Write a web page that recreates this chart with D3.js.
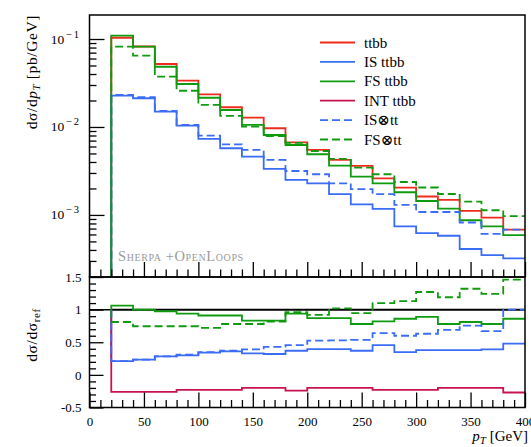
<!DOCTYPE html>
<html>
<head>
<meta charset="utf-8">
<script src="https://cdn.jsdelivr.net/npm/d3@7"></script>
<style>
  body { margin: 0; background: #fff; }
  text { font-family: "Liberation Serif", "DejaVu Serif", serif; }
</style>
</head>
<body>
<div id="chart"></div>
<script>
// bin edges in pT [GeV]
const binEdges = [20, 40, 60, 80, 100, 120, 140, 160, 180, 200, 220, 240, 260, 280, 300, 320, 340, 360, 380, 400];

// dsigma/dpT [pb/GeV], one value per bin
const ttbb    = [0.1034, 0.0822, 0.0520, 0.0336, 0.0235, 0.01675, 0.01276, 0.00967, 0.00667, 0.00548, 0.00422, 0.00361, 0.00261, 0.00204, 0.00162, 0.00148, 0.00111, 0.00093, 0.00068];
const isTtbb  = [0.0227, 0.0212, 0.01493, 0.01035, 0.00731, 0.00573, 0.00460, 0.00334, 0.00250, 0.00229, 0.00172, 0.00132, 0.00117, 0.00074, 0.00062, 0.00058, 0.00041, 0.00035, 0.00032];
const fsTtbb  = [0.109, 0.0818, 0.0484, 0.0308, 0.0215, 0.0156, 0.01054, 0.00811, 0.00624, 0.00490, 0.00363, 0.00272, 0.00229, 0.00181, 0.00144, 0.00118, 0.00087, 0.00074, 0.00059];
const isTt    = [0.0231, 0.0219, 0.0152, 0.01054, 0.00796, 0.00635, 0.00548, 0.00422, 0.00316, 0.00290, 0.00229, 0.00197, 0.00172, 0.00130, 0.00108, 0.00108, 0.00082, 0.00061, 0.00068];
const fsTt    = [0.0818, 0.0649, 0.0373, 0.0258, 0.0178, 0.01334, 0.01007, 0.0079, 0.00658, 0.00533, 0.00433, 0.00345, 0.00290, 0.00237, 0.00205, 0.00173, 0.00142, 0.00113, 0.00097];

// ratios to ttbb
const ratioTtbb  = [1, 1, 1, 1, 1, 1, 1, 1, 1, 1, 1, 1, 1, 1, 1, 1, 1, 1, 1];
const ratioIS    = [0.21, 0.235, 0.285, 0.30, 0.34, 0.36, 0.33, 0.32, 0.37, 0.395, 0.395, 0.37, 0.455, 0.35, 0.38, 0.38, 0.38, 0.39, 0.48];
const ratioFS    = [1.06, 1.00, 0.975, 0.94, 0.91, 0.91, 0.83, 0.83, 0.94, 0.87, 0.87, 0.78, 0.82, 0.86, 0.89, 0.78, 0.81, 0.78, 0.86];
const ratioINT   = [-0.26, -0.26, -0.26, -0.23, -0.23, -0.23, -0.20, -0.20, -0.24, -0.20, -0.20, -0.20, -0.23, -0.23, -0.23, -0.20, -0.20, -0.20, -0.27];
const ratioISxtt = [0.21, 0.235, 0.285, 0.31, 0.35, 0.37, 0.39, 0.43, 0.455, 0.525, 0.53, 0.535, 0.64, 0.60, 0.63, 0.69, 0.755, 0.67, 1.0];
const ratioFSxtt = [0.81, 0.745, 0.745, 0.745, 0.72, 0.78, 0.78, 0.815, 0.96, 0.92, 1.02, 0.945, 1.10, 1.13, 1.27, 1.19, 1.32, 1.24, 1.46];

const legendLabels = ["ttbb", "IS ttbb", "FS ttbb", "INT ttbb", "IS\u2297tt", "FS\u2297tt"];
const xTickLabels = [0, 50, 100, 150, 200, 250, 300, 350, 400];
const logTicks = [1e-3, 1e-2, 1e-1];
const logTickExp = ["\u22123", "\u22122", "\u22121"];
const ratioTicks = [-0.5, 0, 0.5, 1, 1.5];
const ratioTickLabels = ["-0.5", "0", "0.5", "1", "1.5"];

const red = "#ee2b1c", blue = "#3b6cf5", green = "#109a10", crimson = "#c8134c";

const W = 531, H = 447;
const pLeft = 89.5, pRight = 525, pTop = 15, pMid = 277, pBottom = 407.5;

const svg = d3.select("#chart").append("svg")
  .attr("width", W).attr("height", H);

const x = d3.scaleLinear().domain([0, 400]).range([pLeft, pRight]);
const y = d3.scaleLog().domain([1.97e-4, 0.1875]).range([pMid, pTop]);
const yr = d3.scaleLinear().domain([-0.5, 1.5]).range([pBottom, pMid]);

const defs = svg.append("defs");
defs.append("clipPath").attr("id", "clipMain").append("rect")
  .attr("x", pLeft).attr("y", pTop).attr("width", pRight - pLeft).attr("height", pMid - pTop);
defs.append("clipPath").attr("id", "clipRatio").append("rect")
  .attr("x", pLeft).attr("y", pMid).attr("width", pRight - pLeft).attr("height", pBottom - pMid);

function stepPoints(vals, start) {
  const pts = [[binEdges[0], start]];
  vals.forEach((v, i) => pts.push([binEdges[i], v]));
  pts.push([binEdges[vals.length], vals[vals.length - 1]]);
  return pts;
}

const lineMain = d3.line().x(d => x(d[0])).y(d => y(d[1])).curve(d3.curveStepAfter);
const lineRatio = d3.line().x(d => x(d[0])).y(d => yr(d[1])).curve(d3.curveStepAfter);

// main panel histograms
const mainSeries = [
  { vals: ttbb, color: red, dash: null },
  { vals: isTtbb, color: blue, dash: null },
  { vals: fsTtbb, color: green, dash: null },
  { vals: isTt, color: blue, dash: "8,4" },
  { vals: fsTt, color: green, dash: "8,4" }
];
const gMain = svg.append("g").attr("clip-path", "url(#clipMain)");
mainSeries.forEach(s => {
  gMain.append("path")
    .attr("d", lineMain(stepPoints(s.vals, 1e-5)))
    .attr("fill", "none")
    .attr("stroke", s.color)
    .attr("stroke-width", 1.8)
    .attr("stroke-dasharray", s.dash);
});

// ratio panel
const gRatio = svg.append("g").attr("clip-path", "url(#clipRatio)");
gRatio.append("path")
  .attr("d", lineRatio([[0, 1], [400, 1]]))
  .attr("stroke", "#000").attr("stroke-width", 1.5).attr("fill", "none");
const ratioSeries = [
  { vals: ratioTtbb, color: "#000", dash: null },
  { vals: ratioIS, color: blue, dash: null },
  { vals: ratioFS, color: green, dash: null },
  { vals: ratioINT, color: crimson, dash: null },
  { vals: ratioISxtt, color: blue, dash: "8,4" },
  { vals: ratioFSxtt, color: green, dash: "8,4" }
];
ratioSeries.forEach(s => {
  gRatio.append("path")
    .attr("d", lineRatio(stepPoints(s.vals, 1)))
    .attr("fill", "none")
    .attr("stroke", s.color)
    .attr("stroke-width", 1.8)
    .attr("stroke-dasharray", s.dash);
});

// axes (ticks point inside)
function styleAxis(g) {
  g.select(".domain").remove();
  g.selectAll(".tick line").attr("stroke", "#000").attr("stroke-width", 1.3);
  g.selectAll("text").attr("fill", "#000").style("font-family", "'Liberation Serif', serif");
}

const minorX = x.ticks(40).filter(t => t % 50 !== 0);

// main: bottom x ticks
svg.append("g").attr("transform", `translate(0,${pMid})`)
  .call(d3.axisBottom(x).tickValues(xTickLabels).tickSize(-15).tickFormat(""))
  .call(styleAxis);
svg.append("g").attr("transform", `translate(0,${pMid})`)
  .call(d3.axisBottom(x).tickValues(minorX).tickSize(-7.5).tickFormat(""))
  .call(styleAxis);

// main: left log ticks
const minorY = y.ticks().filter(t => !logTicks.some(m => Math.abs(m - t) / m < 1e-6));
svg.append("g").attr("transform", `translate(${pLeft},0)`)
  .call(d3.axisLeft(y).tickValues(logTicks).tickSize(-15).tickFormat(""))
  .call(styleAxis);
svg.append("g").attr("transform", `translate(${pLeft},0)`)
  .call(d3.axisLeft(y).tickValues(minorY).tickSize(-7).tickFormat(""))
  .call(styleAxis);
logTicks.forEach((t, i) => {
  const txt = svg.append("text")
    .attr("x", pLeft - 9).attr("y", y(t) + 4.5)
    .attr("text-anchor", "end")
    .attr("font-size", 13.5);
  txt.append("tspan").text("10");
  txt.append("tspan").attr("dx", 2).attr("dy", -6).attr("font-size", 10.5)
    .attr("letter-spacing", 1.5).text(logTickExp[i]);
});

// ratio: bottom x axis with labels
svg.append("g").attr("transform", `translate(0,${pBottom})`)
  .call(d3.axisBottom(x).tickValues(xTickLabels).tickSize(-15).tickPadding(9))
  .call(styleAxis)
  .selectAll("text").attr("font-size", 13);
svg.append("g").attr("transform", `translate(0,${pBottom})`)
  .call(d3.axisBottom(x).tickValues(minorX).tickSize(-7.5).tickFormat(""))
  .call(styleAxis);

// ratio: left axis
svg.append("g").attr("transform", `translate(${pLeft},0)`)
  .call(d3.axisLeft(yr).tickValues(ratioTicks).tickSize(-14).tickPadding(8)
    .tickFormat((d, i) => ratioTickLabels[i]))
  .call(styleAxis)
  .selectAll("text").attr("font-size", 13);
const minorR = yr.ticks(20).filter(t => !ratioTicks.some(m => Math.abs(m - t) < 1e-6));
svg.append("g").attr("transform", `translate(${pLeft},0)`)
  .call(d3.axisLeft(yr).tickValues(minorR).tickSize(-6.5).tickFormat(""))
  .call(styleAxis);

// frames
svg.append("rect").attr("x", pLeft).attr("y", pTop).attr("width", pRight - pLeft).attr("height", pMid - pTop)
  .attr("fill", "none").attr("stroke", "#000").attr("stroke-width", 1.5);
svg.append("rect").attr("x", pLeft).attr("y", pMid).attr("width", pRight - pLeft).attr("height", pBottom - pMid)
  .attr("fill", "none").attr("stroke", "#000").attr("stroke-width", 1.5);

// legend
const legendColors = [red, blue, green, crimson, blue, green];
const legendDash = [null, null, null, null, "8,4", "8,4"];
const legend = svg.append("g");
legendLabels.forEach((lab, i) => {
  const ly = 42.5 + i * 19.4;
  legend.append("line")
    .attr("x1", 320).attr("x2", 355).attr("y1", ly).attr("y2", ly)
    .attr("stroke", legendColors[i]).attr("stroke-width", 1.8)
    .attr("stroke-dasharray", legendDash[i]);
  legend.append("text")
    .attr("x", 364).attr("y", ly + 5)
    .attr("font-size", 15)
    .text(lab);
});

// generator label
svg.append("text")
  .attr("x", 118).attr("y", 261)
  .attr("fill", "#9a9a9a")
  .attr("font-size", 14.5)
  .attr("letter-spacing", 0.6)
  .style("font-variant", "small-caps")
  .text("Sherpa +OpenLoops");

// y axis title (main)
const yTitle = svg.append("text")
  .attr("transform", "translate(37,15) rotate(-90)")
  .attr("text-anchor", "end")
  .attr("font-size", 15.5)
  .attr("letter-spacing", 0.6);
yTitle.append("tspan").text("d\u03c3/d");
yTitle.append("tspan").attr("font-style", "italic").text("p");
yTitle.append("tspan").attr("font-style", "italic").attr("font-size", 11).attr("dy", 3).text("T");
yTitle.append("tspan").attr("dy", -3).text(" [pb/GeV]");

// y axis title (ratio)
const rTitle = svg.append("text")
  .attr("transform", "translate(37,335) rotate(-90)")
  .attr("text-anchor", "middle")
  .attr("font-size", 15.5)
  .attr("letter-spacing", 0.6);
rTitle.append("tspan").text("d\u03c3/d\u03c3");
rTitle.append("tspan").attr("font-size", 11).attr("dy", 3).text("ref");

// x axis title
const xTitle = svg.append("text")
  .attr("x", 528).attr("y", 441)
  .attr("text-anchor", "end")
  .attr("font-size", 15);
xTitle.append("tspan").attr("font-style", "italic").text("p");
xTitle.append("tspan").attr("font-style", "italic").attr("font-size", 11).attr("dy", 3).text("T");
xTitle.append("tspan").attr("dy", -3).text(" [GeV]");
</script>
</body>
</html>
